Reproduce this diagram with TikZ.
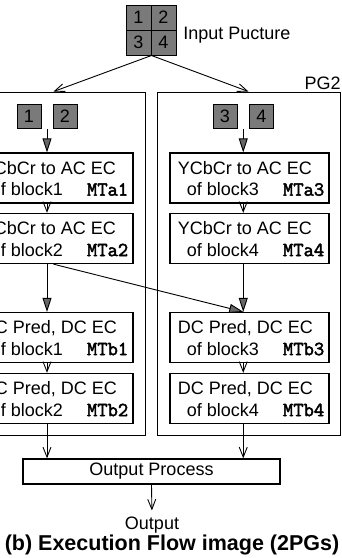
\documentclass[tikz,border=0pt]{standalone}
\usepackage{fontspec}
\setmainfont{Liberation Sans}
\newfontfamily\mtfont[AutoFakeBold=2.5]{Latin Modern Mono}
\usepackage{xcolor}
\usepackage{tikz}
\usetikzlibrary{arrows.meta, positioning, calc}
\definecolor{cellgray}{HTML}{7A7A7A}
\definecolor{tipgray}{HTML}{666666}

\begin{document}
\begin{tikzpicture}[x=1pt, y=-1pt, line width=0.9pt,
    every node/.style={font=\fontsize{18}{20}\selectfont, inner sep=0pt},
    cell/.style={draw, line width=1pt, fill=cellgray, minimum size=25pt},
    blk/.style={draw, line width=1pt, fill=cellgray, minimum size=24pt},
    task/.style={draw, line width=1.3pt, minimum width=159pt, minimum height=50pt},
    pgframe/.style={draw, line width=0.9pt, minimum width=183pt, minimum height=343pt},
    mt/.style={font=\fontsize{20}{22}\selectfont\mtfont\bfseries, anchor=base east},
    openarrow/.style={-{Straight Barb[length=10pt,width=8pt]}},
    fillarrow/.style={-{Triangle[length=14pt,width=9pt,fill=tipgray]}}]
    \useasboundingbox (0,0) rectangle (341,558);
    \clip (0,0) rectangle (341,558);

    \node[cell] (c1) at (138.5,17.5) {1};
    \node[cell] (c2) at (163.5,17.5) {2};
    \node[cell] (c3) at (138.5,42.5) {3};
    \node[cell] (c4) at (163.5,42.5) {4};
    \node[anchor=base west] (intxt) at (183,39) {Input Pucture};

    \node[pgframe] (pg1) at (53.5,263.5) {};
    \node[pgframe] (pg2) at (248.5,263.5) {};
    \node[anchor=base east] (pg2lbl) at (341,89) {PG2};

    \draw[openarrow] (c3.south east) -- (pg1.north);
    \draw[openarrow] (c3.south east) -- (pg2.north);

    \node[blk] (s1) at (29,116.5) {1};
    \node[blk] (s2) at (65,116.5) {2};
    \node[blk] (s3) at (225,116.5) {3};
    \node[blk] (s4) at (261.5,116.5) {4};

    \node[task] (a1) at (53.5,178) {};
    \node[task] (a2) at (53.5,238.5) {};
    \node[task] (b1) at (53.5,337.5) {};
    \node[task] (b2) at (53.5,398.5) {};
    \node[task] (a3) at (249.5,178) {};
    \node[task] (a4) at (249.5,238.5) {};
    \node[task] (b3) at (249.5,337.5) {};
    \node[task] (b4) at (249.5,398.5) {};

    \foreach \b/\head/\num/\tag in {a1/YCbCr to AC EC/1/MTa1, a2/YCbCr to AC EC/2/MTa2,
        a3/YCbCr to AC EC/3/MTa3, a4/YCbCr to AC EC/4/MTa4,
        b1/{DC Pred, DC EC}/1/MTb1, b2/{DC Pred, DC EC}/2/MTb2,
        b3/{DC Pred, DC EC}/3/MTb3, b4/{DC Pred, DC EC}/4/MTb4} {
        \node[anchor=base west] (\b-l1) at ([xshift=8pt, yshift=-22pt]\b.north west) {\head};
        \node[anchor=base west] (\b-l2) at ([xshift=17pt, yshift=8pt]\b.south west) {of block\num};
        \node[mt] (\b-mt) at ([xshift=-5pt, yshift=8pt]\b.south east) {\tag};
    }

    \node[draw, line width=1.3pt, minimum width=257pt, minimum height=25pt] (out) at (151.5,471.5) {Output Process};
    \node[anchor=base] (outtxt) at (152,529.5) {Output};
    \node[anchor=base, font=\fontsize{21.5}{24}\selectfont\bfseries] (cap) at (172,550) {(b) Execution Flow image (2PGs)};

    \coordinate (g1) at ($(s1.south east)!0.5!(s2.south west)$);
    \coordinate (g2) at ($(s3.south east)!0.5!(s4.south west)$);

    \draw[fillarrow] (g1) -- (g1 |- a1.north);
    \draw[openarrow] (g1 |- a1.south) -- (g1 |- a2.north);
    \draw[fillarrow] (g1 |- a2.south) -- (g1 |- b1.north);
    \draw[openarrow] (g1 |- b1.south) -- (g1 |- b2.north);
    \draw[openarrow] (g1 |- b2.south) -- (g1 |- out.north);

    \draw[fillarrow] (g2) -- (g2 |- a3.north);
    \draw[openarrow] (g2 |- a3.south) -- (g2 |- a4.north);
    \draw[fillarrow] (g2 |- a4.south) -- (g2 |- b3.north);
    \draw[openarrow] (g2 |- b3.south) -- (g2 |- b4.north);
    \draw[openarrow] (g2 |- b4.south) -- (g2 |- out.north);

    \draw[fillarrow] (a2.south) -- (g2 |- b3.north);
    \draw[openarrow, shorten >=6pt] (out.south) -- (outtxt.north);
\end{tikzpicture}
\end{document}
